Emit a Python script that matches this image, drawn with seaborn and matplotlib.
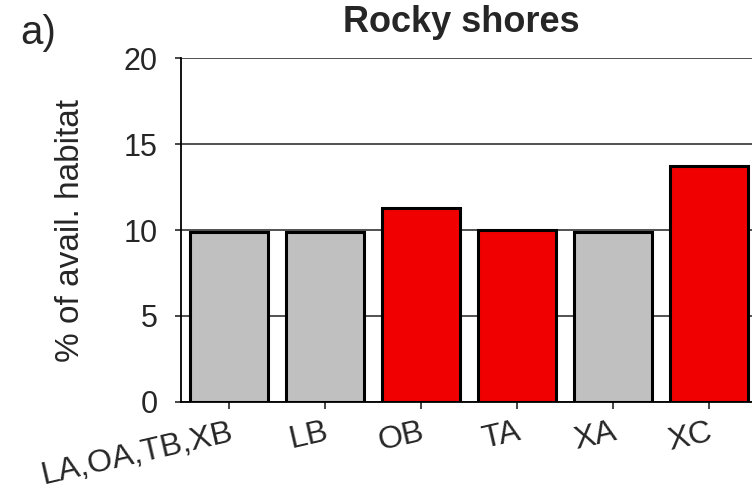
import numpy as np
import pandas as pd
import seaborn as sns
import matplotlib.pyplot as plt

sites = ["LA,OA,TB,XB", "LB", "OB", "TA", "XA", "XC"]
pct_habitat = [9.9, 9.9, 11.3, 10.0, 9.9, 13.7]
selected = [False, False, True, True, False, True]
y_ticks = [0, 5, 10, 15, 20]

df = pd.DataFrame({"site": sites, "pct": pct_habitat})
pal = {s: ("#f00000" if sel else "#c0c0c0") for s, sel in zip(sites, selected)}

sns.set_style("white")
plt.rcParams["font.family"] = ["Liberation Sans", "DejaVu Sans"]

fig = plt.figure(figsize=(7.52, 4.92), dpi=100)
ax = fig.add_axes([0.2407, 0.183, 0.791, 0.699])

sns.barplot(data=df, x="site", y="pct", hue="site", palette=pal, saturation=1,
            width=0.81, edgecolor="black", linewidth=2.2, legend=False, ax=ax)

ax.set_ylim(0, 20)
ax.set_xlim(-0.5, 5.7)
ax.set_yticks(y_ticks)
ax.yaxis.grid(True, color="#333333", lw=1.2)
ax.set_axisbelow(True)
for s in ["top", "right"]:
    ax.spines[s].set_visible(False)
for s in ["left", "bottom"]:
    ax.spines[s].set_color("black")
    ax.spines[s].set_linewidth(1.3)

ax.tick_params(axis="y", direction="out", length=4, width=1.2, labelsize=22, pad=13, left=True)
ax.tick_params(axis="x", direction="out", length=5, width=1.2, labelsize=23, pad=6, bottom=True)
plt.setp(ax.get_xticklabels(), rotation=13, ha="right", va="top", rotation_mode="anchor")

ax.set_xlabel("")
ax.set_ylabel("% of avail. habitat", fontsize=24)
ax.yaxis.set_label_coords(-0.16, 0.5)

fig.text(461 / 752, 1 - 32 / 492, "Rocky shores", ha="center", va="baseline",
         fontsize=26, fontweight="bold")
fig.text(20 / 752, 1 - 44 / 492, "a)", ha="left", va="baseline", fontsize=29)

fig.savefig("out.png", dpi=100)
